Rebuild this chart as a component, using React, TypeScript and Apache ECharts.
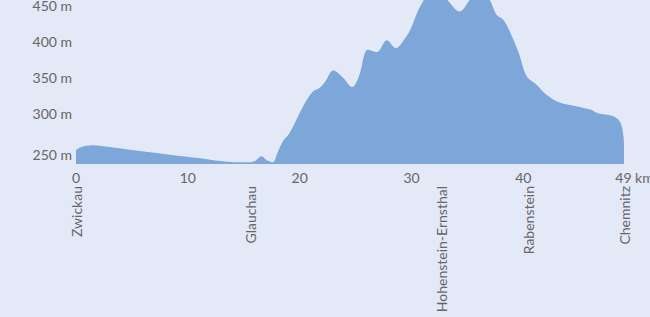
import React, { useEffect, useRef } from "react";
import * as echarts from "echarts";

// Distance along the route (km) and elevation (m)
const distanceKm = [
  0, 0.36, 1.5, 3.0, 5.7, 8.4, 11.1, 12.9, 14.2, 15.6, 16.0, 16.6, 17.0, 17.6,
  18.0, 18.5, 19.1, 20.3, 21.2, 21.8, 22.3, 23.0, 23.9, 24.7, 25.3, 26.1, 26.9,
  27.8, 28.6, 29.4, 29.9, 30.5, 31.1, 32.0, 33.2, 34.3, 35.2, 36.1, 37.0, 37.6,
  38.2, 38.8, 39.6, 40.3, 41.2, 42.1, 43.3, 44.8, 46.0, 46.6, 48.1, 48.7, 48.95,
  49.0,
];
const elevationM = [
  249, 253, 256, 253.5, 248, 243, 238, 234, 232.4, 232.6, 234, 240.7, 236,
  232.4, 245, 261.5, 273, 310, 331, 336, 345, 360, 349.6, 337, 352, 389, 385.7,
  402, 391, 404, 417, 440, 458, 476, 458, 442, 458, 476, 458, 437.5, 430.6,
  414, 384, 352, 340, 326, 315, 310, 305.6, 301, 296, 287, 268.5, 256,
];

const xTickValues = [0, 10, 20, 30, 40, 49];
const yTickValues = [250, 300, 350, 400, 450];

const placeKm = [0, 15.6, 32.7, 40.5, 49];
const placeNames = ["Zwickau", "Glauchau", "Hohenstein-Ernsthal", "Rabenstein", "Chemnitz"];

const X_MAX = 49;

export default function App() {
  const ref = useRef<HTMLDivElement>(null);

  useEffect(() => {
    document.body.style.margin = "0";
    if (!ref.current) return;
    const chart = echarts.init(ref.current, undefined, { renderer: "svg" });
    const font = "Lato, 'Liberation Sans', sans-serif";
    const textColor = "#666666";
    const data = distanceKm.map((d, i) => [d, elevationM[i]]);

    chart.setOption({
      animation: false,
      backgroundColor: "#e3e9f6",
      grid: {
        left: 76,
        right: 26,
        top: 0,
        bottom: 153,
        containLabel: false,
        outerBoundsMode: "none",
      },
      xAxis: [
        {
          type: "value",
          min: 0,
          max: X_MAX,
          axisLine: { show: false },
          axisTick: { show: false },
          splitLine: { show: false },
          axisLabel: {
            customValues: xTickValues,
            color: textColor,
            fontFamily: font,
            fontSize: 14,
            margin: 6,
            formatter: (v: number) =>
              v === X_MAX ? "{last|" + v + " km}" : String(v),
            rich: {
              last: {
                color: textColor,
                fontFamily: font,
                fontSize: 14,
                padding: [0, 0, 0, 21],
              },
            },
          },
        },
        {
          type: "value",
          position: "bottom",
          min: 0,
          max: X_MAX,
          axisLine: { show: false },
          axisTick: { show: false },
          splitLine: { show: false },
          axisLabel: {
            customValues: placeKm,
            rotate: 90,
            color: textColor,
            fontFamily: font,
            fontSize: 14,
            margin: 22,
            formatter: (v: number) => {
              const i = placeKm.indexOf(v);
              return i >= 0 ? placeNames[i] : "";
            },
          },
        },
      ],
      yAxis: {
        type: "value",
        min: 230,
        max: 458,
        axisLine: { show: false },
        axisTick: { show: false },
        splitLine: { show: false },
        axisLabel: {
          customValues: yTickValues,
          color: textColor,
          fontFamily: font,
          fontSize: 14,
          margin: 4,
          formatter: (v: number) =>
            v === yTickValues[0] ? "{low|" + v + " m}" : v + " m",
          rich: {
            low: {
              color: textColor,
              fontFamily: font,
              fontSize: 14,
              padding: [10, 0, 0, 0],
            },
          },
        },
      },
      series: [
        {
          type: "line",
          xAxisIndex: 0,
          data,
          smooth: 0.35,
          symbol: "none",
          lineStyle: { width: 0 },
          areaStyle: { color: "#7da7d9", opacity: 1 },
          clip: true,
        },
      ],
    });

    return () => chart.dispose();
  }, []);

  return <div ref={ref} style={{ width: 650, height: 317 }} />;
}
